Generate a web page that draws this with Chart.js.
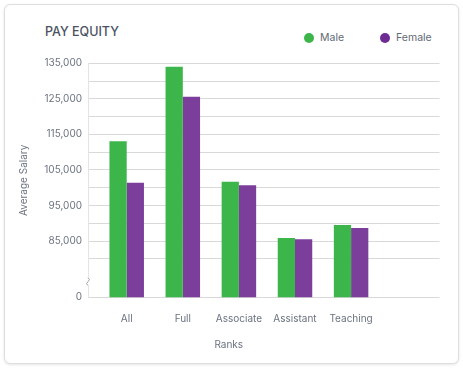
<!DOCTYPE html>
<html>
<head>
<meta charset="utf-8">
<script src="https://cdn.jsdelivr.net/npm/chart.js@4/dist/chart.umd.min.js"></script>
<style>
    html, body { margin: 0; padding: 0; background: #fff; }
    body { width: 463px; height: 370px; position: relative; overflow: hidden; font-family: Inter, "Noto Sans", sans-serif; }
    .card {
        position: absolute; left: 4px; top: 4px; width: 453px; height: 358px;
        border: 1px solid #dedede; border-radius: 6px;
        box-shadow: 0 1px 3px rgba(0, 0, 0, 0.10);
        background: #fff;
    }
    .title {
        position: absolute; left: 45px; top: 24px;
        font-size: 12.5px; line-height: 16px; font-weight: 500;
        color: #4a5261;
    }
    .legend {
        position: absolute; left: 304px; top: 30px;
        display: flex; align-items: center;
        font-size: 10.5px; line-height: 15px; color: #626a75;
    }
    .legend .item { display: flex; align-items: center; margin-right: 36px; }
    .legend .dot { width: 10px; height: 10px; border-radius: 50%; margin-right: 6px; }
    #payChart { position: absolute; left: 0; top: 0; }
</style>
</head>
<body>
<div class="card"></div>
<div class="title">PAY EQUITY</div>
<div class="legend" id="legend"></div>
<canvas id="payChart" width="463" height="370"></canvas>

<script>
    // Chart data
    const ranks = ['All', 'Full', 'Associate', 'Assistant', 'Teaching'];
    const maleSalary = [113100, 134000, 101700, 85900, 89500];
    const femaleSalary = [101400, 125600, 100700, 85500, 88700];
    const seriesNames = ['Male', 'Female'];

    // Broken y axis: the floor is shown as "0"
    const axisFloor = 69200;
    const axisTop = 135000;
    const yGridValues = [80000, 85000, 90000, 95000, 100000, 105000, 110000, 115000, 120000, 125000, 130000, 135000];
    const yLabelValues = [85000, 95000, 105000, 115000, 125000, 135000];

    const barColors = ['#3cb54a', '#7b3f9b'];
    const dotColors = ['#3cb54a', '#6e2b94'];
    const textGray = '#6b7280';

    // Legend (html, sits on the header row next to the title)
    const legendEl = document.getElementById('legend');
    seriesNames.forEach(function(name, i) {
        const item = document.createElement('div');
        item.className = 'item';
        item.innerHTML = '<span class="dot" style="background:' + dotColors[i] + '"></span>' + name;
        legendEl.appendChild(item);
    });

    // Draws the little break mark on the y axis
    const axisBreak = {
        id: 'axisBreak',
        afterDraw: function(chart) {
            const y = chart.scales.y;
            const x = chart.chartArea.left;
            const py = y.getPixelForValue(73600);
            const ctx = chart.ctx;
            ctx.save();
            ctx.fillStyle = '#fff';
            ctx.fillRect(x - 3, py - 4, 6, 8);
            ctx.strokeStyle = '#9aa0a8';
            ctx.lineWidth = 1;
            ctx.beginPath();
            ctx.moveTo(x, py - 4);
            ctx.quadraticCurveTo(x + 3, py - 2, x, py);
            ctx.quadraticCurveTo(x - 3, py + 2, x, py + 4);
            ctx.stroke();
            ctx.restore();
        }
    };

    const tickFont = { family: 'Inter', size: 10 };

    new Chart(document.getElementById('payChart'), {
        type: 'bar',
        data: {
            datasets: [{
                label: seriesNames[0],
                data: maleSalary.map((v, i) => ({ x: i, y: v })),
                backgroundColor: barColors[0],
                borderWidth: 0
            }, {
                label: seriesNames[1],
                data: femaleSalary.map((v, i) => ({ x: i, y: v })),
                backgroundColor: barColors[1],
                borderWidth: 0
            }]
        },
        options: {
            responsive: false,
            animation: false,
            barPercentage: 1,
            categoryPercentage: 0.615,
            layout: {
                padding: { left: 18, right: 23.5, top: 63.3, bottom: 18.7 }
            },
            plugins: {
                legend: { display: false },
                tooltip: { enabled: false },
                title: {
                    display: true,
                    position: 'bottom',
                    text: 'Ranks',
                    color: textGray,
                    font: { family: 'Inter', size: 10, weight: 'normal' },
                    padding: { top: 14, bottom: 0 }
                }
            },
            scales: {
                x: {
                    type: 'linear',
                    offset: false,
                    min: -0.69,
                    max: 5.576,
                    afterBuildTicks: function(scale) {
                        scale.ticks = ranks.map((r, i) => ({ value: i }));
                    },
                    afterFit: function(scale) {
                        scale.height = 28;
                    },
                    ticks: {
                        autoSkip: false,
                        maxRotation: 0,
                        padding: 16,
                        color: textGray,
                        font: tickFont,
                        callback: function(value) {
                            return ranks[value] || '';
                        }
                    },
                    grid: { display: false, drawTicks: false },
                    border: { display: false }
                },
                y: {
                    min: axisFloor,
                    max: axisTop,
                    afterBuildTicks: function(scale) {
                        scale.ticks = [{ value: axisFloor }].concat(yGridValues.map(v => ({ value: v })));
                    },
                    afterFit: function(scale) {
                        scale.width = 70;
                    },
                    ticks: {
                        padding: 6,
                        color: textGray,
                        font: tickFont,
                        callback: function(value) {
                            if (value === axisFloor) return '0';
                            if (yLabelValues.indexOf(value) !== -1) return value.toLocaleString('en-US');
                            return '';
                        }
                    },
                    grid: {
                        color: '#d9d9d9',
                        drawTicks: false
                    },
                    border: { display: true, color: '#e4e4e4' },
                    title: {
                        display: true,
                        text: 'Average Salary',
                        color: textGray,
                        font: { family: 'Inter', size: 10 },
                        padding: { top: 0, bottom: 0 }
                    }
                }
            }
        },
        plugins: [axisBreak]
    });
</script>
</body>
</html>
